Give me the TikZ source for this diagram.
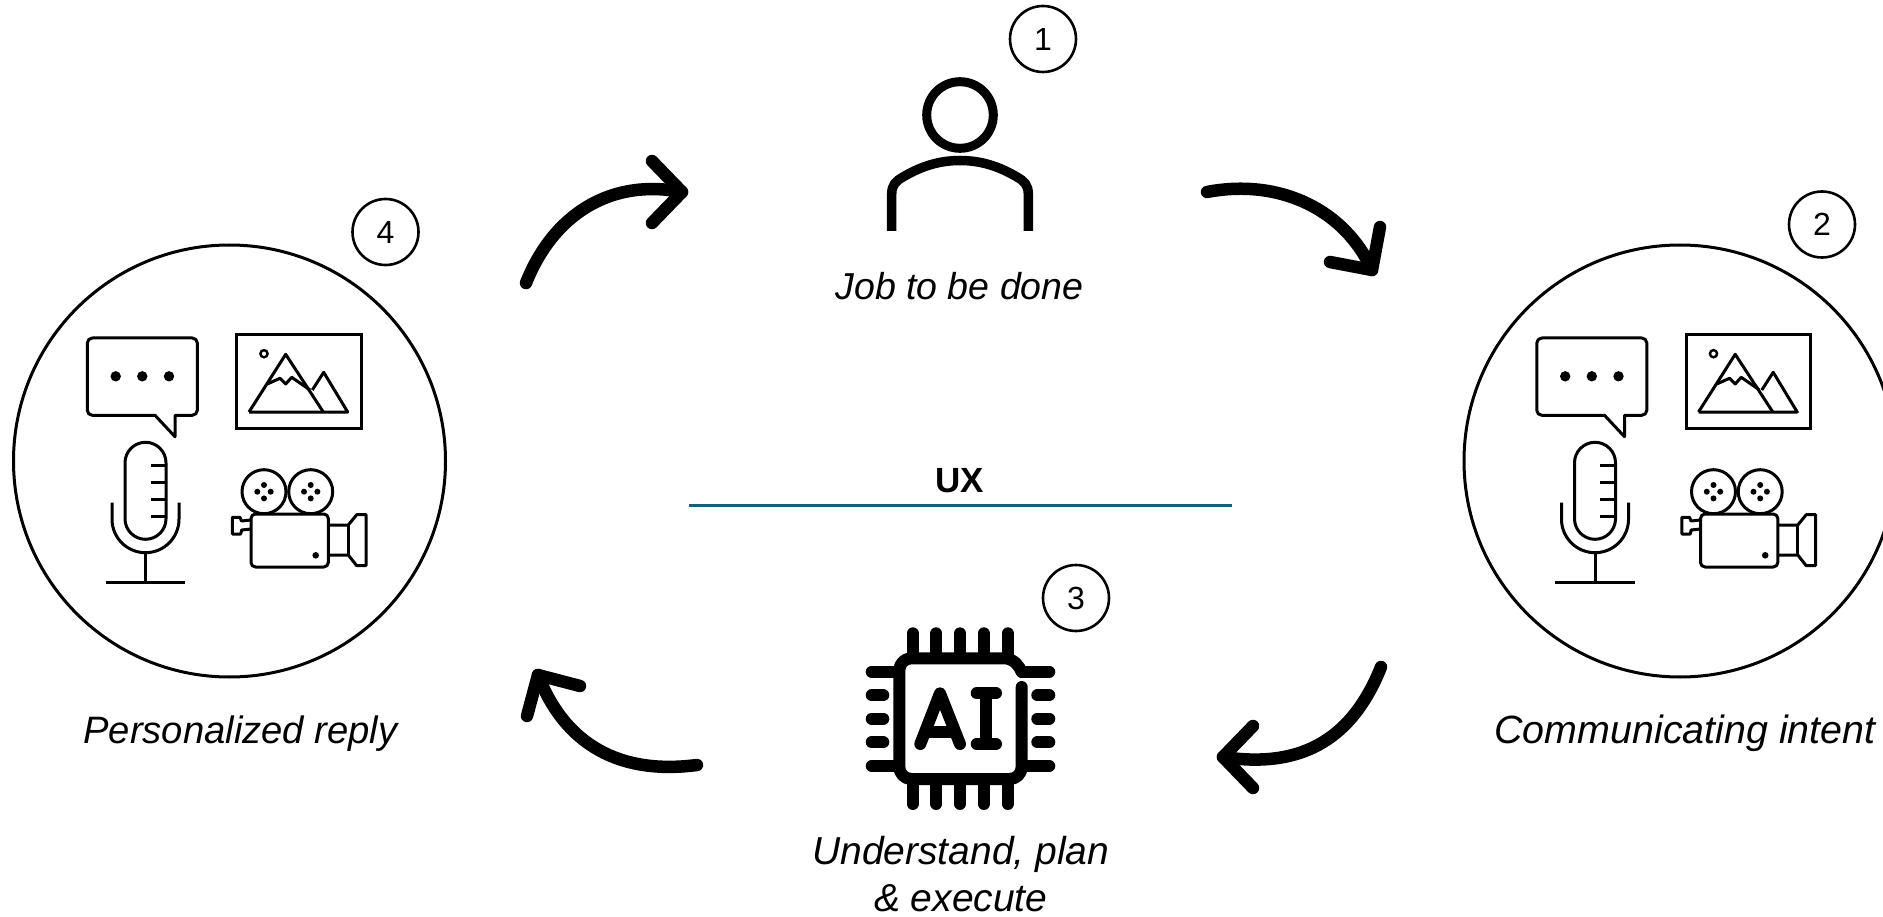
\documentclass[tikz,border=0pt]{standalone}
\usepackage{fontspec}
\setmainfont{Liberation Sans}
\definecolor{uxblue}{HTML}{156082}
\tikzset{
  x=1pt,y=-1pt,
  ring/.style={circle,draw=black,line width=3pt,minimum size=#1,inner sep=0pt},
  numring/.style={circle,draw=black,line width=2.6pt,minimum size=66pt,inner sep=0pt,font=\fontsize{32}{36}\selectfont},
  caption/.style={anchor=base,font=\fontsize{#1}{44}\selectfont\itshape,inner sep=0pt},
  flow/.style={line width=12.5pt,line cap=round,line join=round},
  thin icon/.style={line width=3pt,line join=round},
  media/.pic={
    % speech bubble
    \draw[thin icon] (155,415.3) -- (92.3,415.3) arc[start angle=90,end angle=180,radius=5] -- (87.3,343) arc[start angle=180,end angle=270,radius=5]
      -- (192.3,338) arc[start angle=270,end angle=360,radius=5] -- (197.3,410.3) arc[start angle=0,end angle=90,radius=5] -- (175,415.3) -- (175,436.7) -- cycle;
    \foreach \dx in {115.7,142.3,169} \fill (\dx,376.3) circle[radius=5.2];
    % picture
    \draw[thin icon,line join=miter] (236.7,335) rectangle (361,428.7);
    \draw[line width=2.4pt] (264,353.7) circle[radius=3.6];
    \draw[thin icon] (249,412) -- (347.7,412) -- (323.7,372.3) -- (312.3,390);
    \draw[thin icon] (249,412) -- (285.7,354.3) -- (323.3,412);
    \draw[thin icon] (267.3,384) -- (280,378.3) -- (285.7,384) -- (291.7,377.3) -- (310,390);
    % microphone
    \draw[thin icon] (125,462.8) arc[start angle=180,end angle=360,radius=20.5] -- (166,518.8) arc[start angle=0,end angle=180,radius=20.5] -- cycle;
    \foreach \ty in {465.7,482.7,499.3,516.7} \draw[thin icon] (150.7,\ty) -- (166,\ty);
    \draw[thin icon] (112,502.7) -- (112,519.2) arc[start angle=180,end angle=0,radius=33.5] -- (179,502.7);
    \draw[thin icon] (145.5,552.7) -- (145.5,582.7);
    \draw[thin icon] (105.7,582.7) -- (185,582.7);
    % camera
    \foreach \cx in {264,310.7}{
      \draw[thin icon] (\cx,491.7) circle[radius=22];
      \foreach \ddx/\ddy in {6.7/0,-6.7/0,0/6.7,0/-6.7} \fill (\cx+\ddx,491.7+\ddy) circle[radius=3];
    }
    \draw[thin icon,fill=white,rounded corners=4.5pt] (251,514) rectangle (328.3,567);
    \fill (315.7,555.3) circle[radius=3.3];
    \draw[thin icon] (328.3,525) -- (348.3,525) -- (356.7,514.7) -- (366,514.7) -- (366,565.7) -- (356.7,565.7) -- (348.3,555) -- (328.3,555);
    \draw[thin icon] (348.3,525) -- (348.3,555);
    \draw[thin icon] (251,520) -- (241.5,521) -- (240,517.3) -- (232.3,517.3) -- (232.3,534) -- (240.7,534) -- (241.7,530) -- (251,529);
  }
}
\begin{document}
\begin{tikzpicture}
\useasboundingbox[fill=white] (0,0) rectangle (1883,917);
\begin{scope}
\clip (0,0) rectangle (1883,917);
% big circles
\node[ring=432pt] (replycircle) at (229.5,461) {};
\node[ring=432pt] (intentcircle) at (1680,461) {};
\end{scope}
\pic at (0,0) {media};
\pic at (1449.5,0) {media};
% number badges
\node[numring] (n1) at (1043,39) {1};
\node[numring] (n2) at (1822,224.5) {2};
\node[numring] (n3) at (1076,598) {3};
\node[numring] (n4) at (385.5,232) {4};
% person
\draw[line width=9pt] (960,115) circle[radius=33.3];
\draw[line width=9.5pt] (891.7,231) -- (891.7,194) .. controls (891.7,185) and (896,181) .. (903,177)
  .. controls (920,167) and (938,160.5) .. (960,160.5) .. controls (982,160.5) and (1000,167) .. (1017,177)
  .. controls (1024,181) and (1028.3,185) .. (1028.3,194) -- (1028.3,231);
% chip
\begin{scope}[line width=12pt,line cap=round,line join=round]
  \foreach \px in {912.7,936.3,960,983.7,1007.7} \draw (\px,633.3) -- (\px,658) (\px,779) -- (\px,804);
  \foreach \py in {695.3,718.7,742.3} \draw (871.7,\py) -- (883.3,\py) (1037.3,\py) -- (1049.3,\py);
  \foreach \py in {671.7,766} \draw (871.7,\py) -- (899,\py) (1022,\py) -- (1049.3,\py);
  \draw (1021.7,687) -- (1021.7,767) arc[start angle=0,end angle=90,radius=12] -- (911.3,779) arc[start angle=90,end angle=180,radius=12]
    -- (899.3,670.3) arc[start angle=180,end angle=270,radius=12] -- (1006,658.3) .. controls (1015,660) and (1019,666) .. (1021.7,672);
  \draw (920.3,744) -- (940,693.3) -- (960,744);
  \draw (928,732) -- (952,732);
  \draw (976.7,693.3) -- (996,693.3) (986,693.3) -- (986,744) (976.7,744) -- (996,744);
\end{scope}
% UX rule
\node[font=\fontsize{35}{40}\selectfont\bfseries,anchor=base,inner sep=0pt] (ux) at (960,492) {UX};
\coordinate (ruleL) at (689,505.5);
\coordinate (ruleR) at (1232,505.5);
\draw[uxblue,line width=3.2pt] (ruleL) -- (ruleR);
% captions
\node[caption=37.5] (job) at (959.5,299.5) {Job to be done};
\node[caption=38.2] (reply) at (240.5,743) {Personalized reply};
\node[caption=39.4] (intent) at (1685,743) {Communicating intent};
\node[caption=39] (plan1) at (960.8,864.5) {Understand, plan};
\node[caption=39] (plan2) at (960.8,911) {\& execute};
% arrows
\coordinate (aS) at (526,283); \coordinate (aT) at (682,192);
\coordinate (bS) at (1207,192); \coordinate (bT) at (1372,270);
\coordinate (cS) at (1381,667); \coordinate (cT) at (1223,757);
\coordinate (dS) at (697,765); \coordinate (dT) at (538,675);
\draw[flow] (aS) .. controls (553,215) and (610,178) .. (aT);
\draw[flow] (652,161) -- (aT) -- (652,223);
\draw[flow] (bS) .. controls (1280,178) and (1345,210) .. (bT);
\draw[flow] (1380,227) -- (bT) -- (1330,262);
\draw[flow] (cS) .. controls (1350,745) and (1295,768) .. (cT);
\draw[flow] (1253,726) -- (cT) -- (1253,788);
\draw[flow] (dS) .. controls (620,775) and (565,745) .. (dT);
\draw[flow] (580,686) -- (dT) -- (527,716);
\end{tikzpicture}
\end{document}
